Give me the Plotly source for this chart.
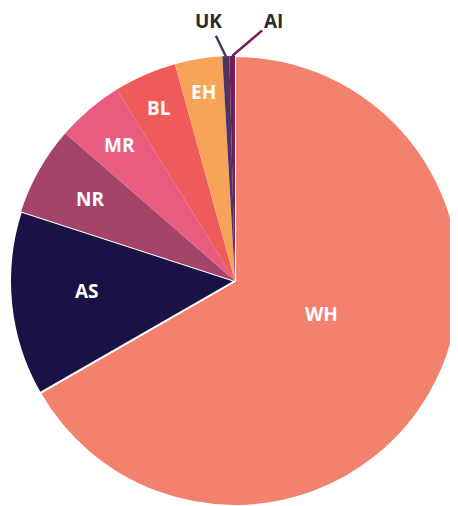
import math
import plotly.graph_objects as go

labels = ["WH", "AS", "NR", "MR", "BL", "EH", "UK", "AI"]
values = [66.7, 13.3, 6.4, 4.8, 4.5, 3.4, 0.5, 0.4]
colors = ["#f2826e", "#1a1145", "#a5446a", "#e85c80", "#ef5a5a", "#f7a35a", "#4b3561", "#7b1a56"]
line_widths = [2, 2, 0, 0, 0, 0, 0, 0]

# label placement (style): radius as fraction of pie radius, angle nudge in degrees
label_r = [0.41, 0.66, 0.74, 0.79, 0.84, 0.85]
label_nudge = [-9, 2, 0, 0, 0, 0]
# leader-line labels for the two tiny slices: text offset (px)
leader_offsets = [(-17, -35), (41, -35)]

W, H = 458, 506
# pie geometry in figure pixels
CX, CY, R = 227, 273, 225
dom_x = [(CX - R) / W, (CX + R) / W]
dom_y = [1 - (CY + R) / H, 1 - (CY - R) / H]

fig = go.Figure(go.Pie(
    labels=labels,
    values=values,
    sort=False,
    direction="clockwise",
    rotation=0,
    marker=dict(colors=colors, line=dict(color="white", width=line_widths)),
    textinfo="none",
    showlegend=False,
    hoverinfo="label+percent",
    domain=dict(x=dom_x, y=dom_y),
))

total = sum(values)
cum = 0.0
for i, (lab, v) in enumerate(zip(labels, values)):
    a0 = cum / total * 360
    cum += v
    a1 = cum / total * 360
    mid = math.radians((a0 + a1) / 2)
    if i < len(label_r):
        ang = mid + math.radians(label_nudge[i])
        px = CX + label_r[i] * R * math.sin(ang)
        py = CY - label_r[i] * R * math.cos(ang)
        fig.add_annotation(
            x=px / W, y=1 - py / H, xref="paper", yref="paper",
            xanchor="center", yanchor="middle",
            showarrow=False, text=f"<b>{lab}</b>",
            font=dict(size=19, color="white", family="Open Sans"),
        )
    else:
        ax, ay = leader_offsets[i - len(label_r)]
        px = CX + R * math.sin(mid)
        py = CY - R * math.cos(mid)
        fig.add_annotation(
            x=px / W, y=1 - py / H, xref="paper", yref="paper",
            ax=ax, ay=ay, showarrow=True, arrowhead=0, arrowwidth=2.5,
            arrowcolor=colors[i], standoff=0,
            text=f"<b>{lab}</b>",
            font=dict(size=19, color="#2a2a2a", family="Open Sans"),
        )

fig.update_layout(
    width=W,
    height=H,
    margin=dict(l=0, r=0, t=0, b=0),
    paper_bgcolor="white",
    plot_bgcolor="white",
    font=dict(family="Open Sans"),
)

fig.write_html("out.html", post_script="document.body.style.overflow='hidden';")
